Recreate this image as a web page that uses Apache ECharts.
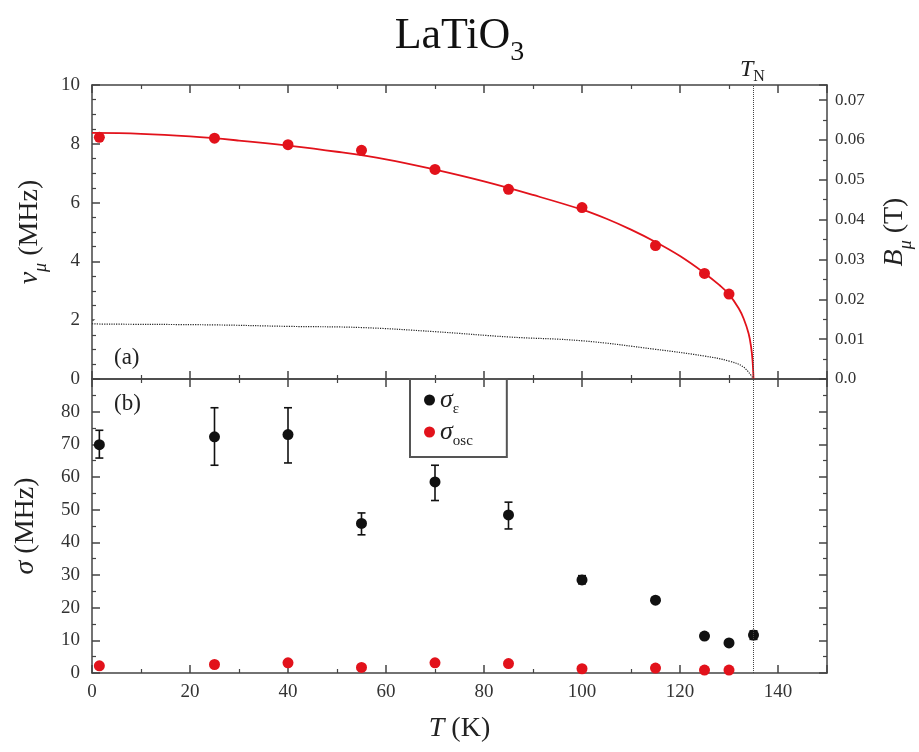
<!DOCTYPE html>
<html>
<head>
<meta charset="utf-8">
<script src="https://cdn.jsdelivr.net/npm/echarts@6/dist/echarts.min.js"></script>
<style>
html, body { margin: 0; padding: 0; background: #fff; }
#main { width: 919px; height: 752px; }
</style>
</head>
<body>
<div id="main"></div>
<script>
// 温度点 (K)
var tempT = [1.5, 25, 40, 55, 70, 85, 100, 115, 125, 130];
// 上图：振荡频率 (红点) 和 空心圆
var nuOsc = [8.22, 8.19, 7.97, 7.78, 7.13, 6.45, 5.83, 4.54, 3.59, 2.89];
var nuOpen = [1.87, 1.84, 1.79, 1.75, 1.61, 1.43, 1.30, 1.01, 0.78, 0.61];
// 红色拟合曲线
var fitT = [0, 10, 20, 30, 40, 50, 60, 70, 80, 90, 100,
    105, 110, 115, 120, 125, 128, 130, 132, 133, 134, 134.5, 134.8, 135];
var fitNu = [8.37, 8.34, 8.25, 8.11, 7.94, 7.73, 7.47, 7.12, 6.72, 6.26, 5.76,
    5.45, 5.08, 4.66, 4.18, 3.60, 3.20, 2.88, 2.40, 2.05, 1.55, 1.10, 0.65, 0];
// 空心圆的点线
var openFitT = [0, 1.5, 25, 40, 55, 70, 85, 100, 115, 125, 130, 133, 135];
var openFitNu = [1.88, 1.87, 1.84, 1.79, 1.75, 1.61, 1.43, 1.30, 1.01, 0.78, 0.61, 0.40, 0];
// 下图：sigma_e 及误差
var sigT = [1.5, 25, 40, 55, 70, 85, 100, 115, 125, 130, 135];
var sigE = [69.9, 72.3, 73.0, 45.8, 58.5, 48.4, 28.5, 22.3, 11.3, 9.2, 11.6];
var sigLo = [65.8, 63.6, 64.3, 42.3, 52.8, 44.1, 27.3, 21.5, 10.6, 8.5, 10.3];
var sigHi = [74.3, 81.2, 81.2, 49.0, 63.6, 52.3, 29.8, 23.1, 12.0, 9.9, 12.9];
var sigOsc = [2.2, 2.6, 3.1, 1.7, 3.1, 2.9, 1.3, 1.5, 0.9, 0.9];
var TN = 135;
var B_MAX = 10 / 135.54;   // 10 MHz 对应的场 (T)

var serif = 'Liberation Serif';
var red = '#e2121b';
var black = '#111';

function zip(a, b) {
    var out = [];
    for (var i = 0; i < a.length; i++) {
        out.push([a[i], b[i]]);
    }
    return out;
}

var errData = [];
for (var i = 0; i < sigT.length; i++) {
    errData.push([sigT[i], sigLo[i], sigHi[i]]);
}

// 坐标轴公共样式
function mkAxis(o) {
    var base = {
        type: 'value',
        axisLine: { show: true, onZero: false, lineStyle: { color: '#444', width: 1.5 } },
        axisTick: { show: true, inside: true, length: 8, lineStyle: { color: '#444', width: 1.5 } },
        minorTick: { show: true, splitNumber: 2, length: 4, lineStyle: { color: '#444', width: 1.2 } },
        splitLine: { show: false },
        axisLabel: { show: false, color: '#333', fontFamily: serif, fontSize: 19 },
        nameTextStyle: { color: '#222', fontFamily: serif, fontSize: 28 }
    };
    for (var k in o) {
        if (k === 'axisLabel' || k === 'minorTick' || k === 'nameTextStyle') {
            for (var kk in o[k]) base[k][kk] = o[k][kk];
        } else {
            base[k] = o[k];
        }
    }
    return base;
}

var rich = {
    it: { fontFamily: serif, fontStyle: 'italic', fontSize: 28, color: '#222', lineHeight: 40 },
    rm: { fontFamily: serif, fontSize: 28, color: '#222', lineHeight: 40 },
    sub: { fontFamily: serif, fontStyle: 'italic', fontSize: 18, color: '#222', lineHeight: 18, verticalAlign: 'bottom' }
};

var myChart = echarts.init(document.getElementById('main'));

var option = {
    animation: false,
    backgroundColor: '#fff',
    title: {
        text: '{m|LaTiO}{s|3}',
        left: 'center',
        top: 0,
        textStyle: {
            fontWeight: 'normal',
            rich: {
                m: { fontFamily: serif, fontWeight: 'normal', fontSize: 44, color: '#111', lineHeight: 62 },
                s: { fontFamily: serif, fontWeight: 'normal', fontSize: 28, color: '#111', lineHeight: 28, verticalAlign: 'bottom' }
            }
        }
    },
    grid: [
        { left: 92, top: 85, width: 735, height: 294, outerBoundsMode: 'none', containLabel: false },
        { left: 92, top: 379, width: 735, height: 294, outerBoundsMode: 'none', containLabel: false }
    ],
    xAxis: [
        mkAxis({ gridIndex: 0, position: 'bottom', min: 0, max: 150, interval: 20 }),
        mkAxis({ gridIndex: 0, position: 'top', min: 0, max: 150, interval: 20 }),
        mkAxis({
            gridIndex: 1, position: 'bottom', min: 0, max: 150, interval: 20,
            axisLabel: { show: true, margin: 10, showMaxLabel: false },
            name: '{it|T}{rm| (K)}', nameLocation: 'middle', nameGap: 36,
            nameTextStyle: { rich: rich }
        }),
        mkAxis({ gridIndex: 1, position: 'top', min: 0, max: 150, interval: 20 })
    ],
    yAxis: [
        mkAxis({
            gridIndex: 0, position: 'left', min: 0, max: 10, interval: 2,
            minorTick: { splitNumber: 4 },
            axisLabel: { show: true, margin: 12 },
            name: '{it|ν}{sub|μ}{rm| (MHz)}', nameLocation: 'middle', nameRotate: 90, nameGap: 40,
            nameTextStyle: { rich: rich }
        }),
        mkAxis({
            gridIndex: 0, position: 'right', min: 0, max: B_MAX, interval: 0.01,
            axisLabel: {
                show: true, margin: 8, fontSize: 17, showMaxLabel: false,
                formatter: function (v) { return v === 0 ? '0.0' : v.toFixed(2); }
            },
            name: '{it|B}{sub|μ}{rm| (T)}', nameLocation: 'middle', nameRotate: 90, nameGap: 48,
            nameTextStyle: { rich: rich }
        }),
        mkAxis({
            gridIndex: 1, position: 'left', min: 0, max: 90, interval: 10,
            axisLabel: { show: true, margin: 12, showMaxLabel: false },
            name: '{it|σ}{rm| (MHz)}', nameLocation: 'middle', nameRotate: 90, nameGap: 46,
            nameTextStyle: { rich: rich }
        }),
        mkAxis({ gridIndex: 1, position: 'right', min: 0, max: 90, interval: 10 })
    ],
    legend: {
        left: 410,
        top: 379,
        orient: 'vertical',
        data: [{ name: 'σε', icon: 'circle' }, { name: 'σosc', icon: 'circle' }],
        itemWidth: 11,
        itemHeight: 11,
        itemGap: 2,
        padding: [8, 34, 8, 14],
        borderColor: '#555',
        borderWidth: 2,
        formatter: function (name) {
            return name === 'σε' ? '{g|σ}{s|ε}' : '{g|σ}{s|osc}';
        },
        textStyle: {
            rich: {
                g: { fontFamily: serif, fontStyle: 'italic', fontSize: 26, color: '#222', lineHeight: 34 },
                s: { fontFamily: serif, fontSize: 15, color: '#222', lineHeight: 15, verticalAlign: 'bottom' }
            }
        }
    },
    graphic: [
        { type: 'text', left: 114, top: 346, style: { text: '(a)', font: '23px "Liberation Serif"', fill: '#222' } },
        { type: 'text', left: 114, top: 392, style: { text: '(b)', font: '23px "Liberation Serif"', fill: '#222' } },
        {
            type: 'text', left: 740, top: 58,
            style: {
                text: '{t|T}{n|N}',
                rich: {
                    t: { fontFamily: serif, fontStyle: 'italic', fontSize: 24, fill: '#222', lineHeight: 30 },
                    n: { fontFamily: serif, fontSize: 16, fill: '#222', lineHeight: 16, verticalAlign: 'bottom' }
                }
            }
        }
    ],
    series: [
        {
            name: 'fit', type: 'line', xAxisIndex: 0, yAxisIndex: 0,
            data: zip(fitT, fitNu), showSymbol: false, smooth: 0.4,
            lineStyle: { color: red, width: 1.8 },
            markLine: {
                silent: true, symbol: ['none', 'none'], label: { show: false },
                lineStyle: { color: '#444', type: 'dotted', width: 1 },
                data: [{ xAxis: TN }]
            }
        },
        {
            name: 'openfit', type: 'line', xAxisIndex: 0, yAxisIndex: 0,
            data: zip(openFitT, openFitNu), showSymbol: false, smooth: 0.4,
            lineStyle: { color: '#222', width: 1.2, type: 'dotted' }
        },
        {
            name: 'nu', type: 'scatter', xAxisIndex: 0, yAxisIndex: 0,
            data: zip(tempT, nuOsc), symbolSize: 11, itemStyle: { color: red, opacity: 1 }
        },
        {
            name: 'nuOpen', type: 'scatter', xAxisIndex: 0, yAxisIndex: 0,
            data: zip(tempT, nuOpen), symbol: 'emptyCircle', symbolSize: 11,
            itemStyle: { color: '#fff', borderColor: black, borderWidth: 2, opacity: 1 }
        },
        {
            name: 'err', type: 'custom', xAxisIndex: 2, yAxisIndex: 2,
            data: errData,
            renderItem: function (params, api) {
                var x = api.value(0);
                var p1 = api.coord([x, api.value(1)]);
                var p2 = api.coord([x, api.value(2)]);
                var w = 4;
                var st = { stroke: black, lineWidth: 1.6 };
                return {
                    type: 'group',
                    children: [
                        { type: 'line', shape: { x1: p1[0], y1: p1[1], x2: p2[0], y2: p2[1] }, style: st },
                        { type: 'line', shape: { x1: p1[0] - w, y1: p1[1], x2: p1[0] + w, y2: p1[1] }, style: st },
                        { type: 'line', shape: { x1: p2[0] - w, y1: p2[1], x2: p2[0] + w, y2: p2[1] }, style: st }
                    ]
                };
            }
        },
        {
            name: 'σε', type: 'scatter', xAxisIndex: 2, yAxisIndex: 2,
            data: zip(sigT, sigE), symbolSize: 11, itemStyle: { color: black, opacity: 1 },
            markLine: {
                silent: true, symbol: ['none', 'none'], label: { show: false },
                lineStyle: { color: '#444', type: 'dotted', width: 1 },
                data: [{ xAxis: TN }]
            }
        },
        {
            name: 'σosc', type: 'scatter', xAxisIndex: 2, yAxisIndex: 2,
            data: zip(tempT, sigOsc), symbolSize: 11, itemStyle: { color: red, opacity: 1 }
        }
    ]
};

myChart.setOption(option);

window.onresize = function () {
    myChart.resize();
};
</script>
</body>
</html>
